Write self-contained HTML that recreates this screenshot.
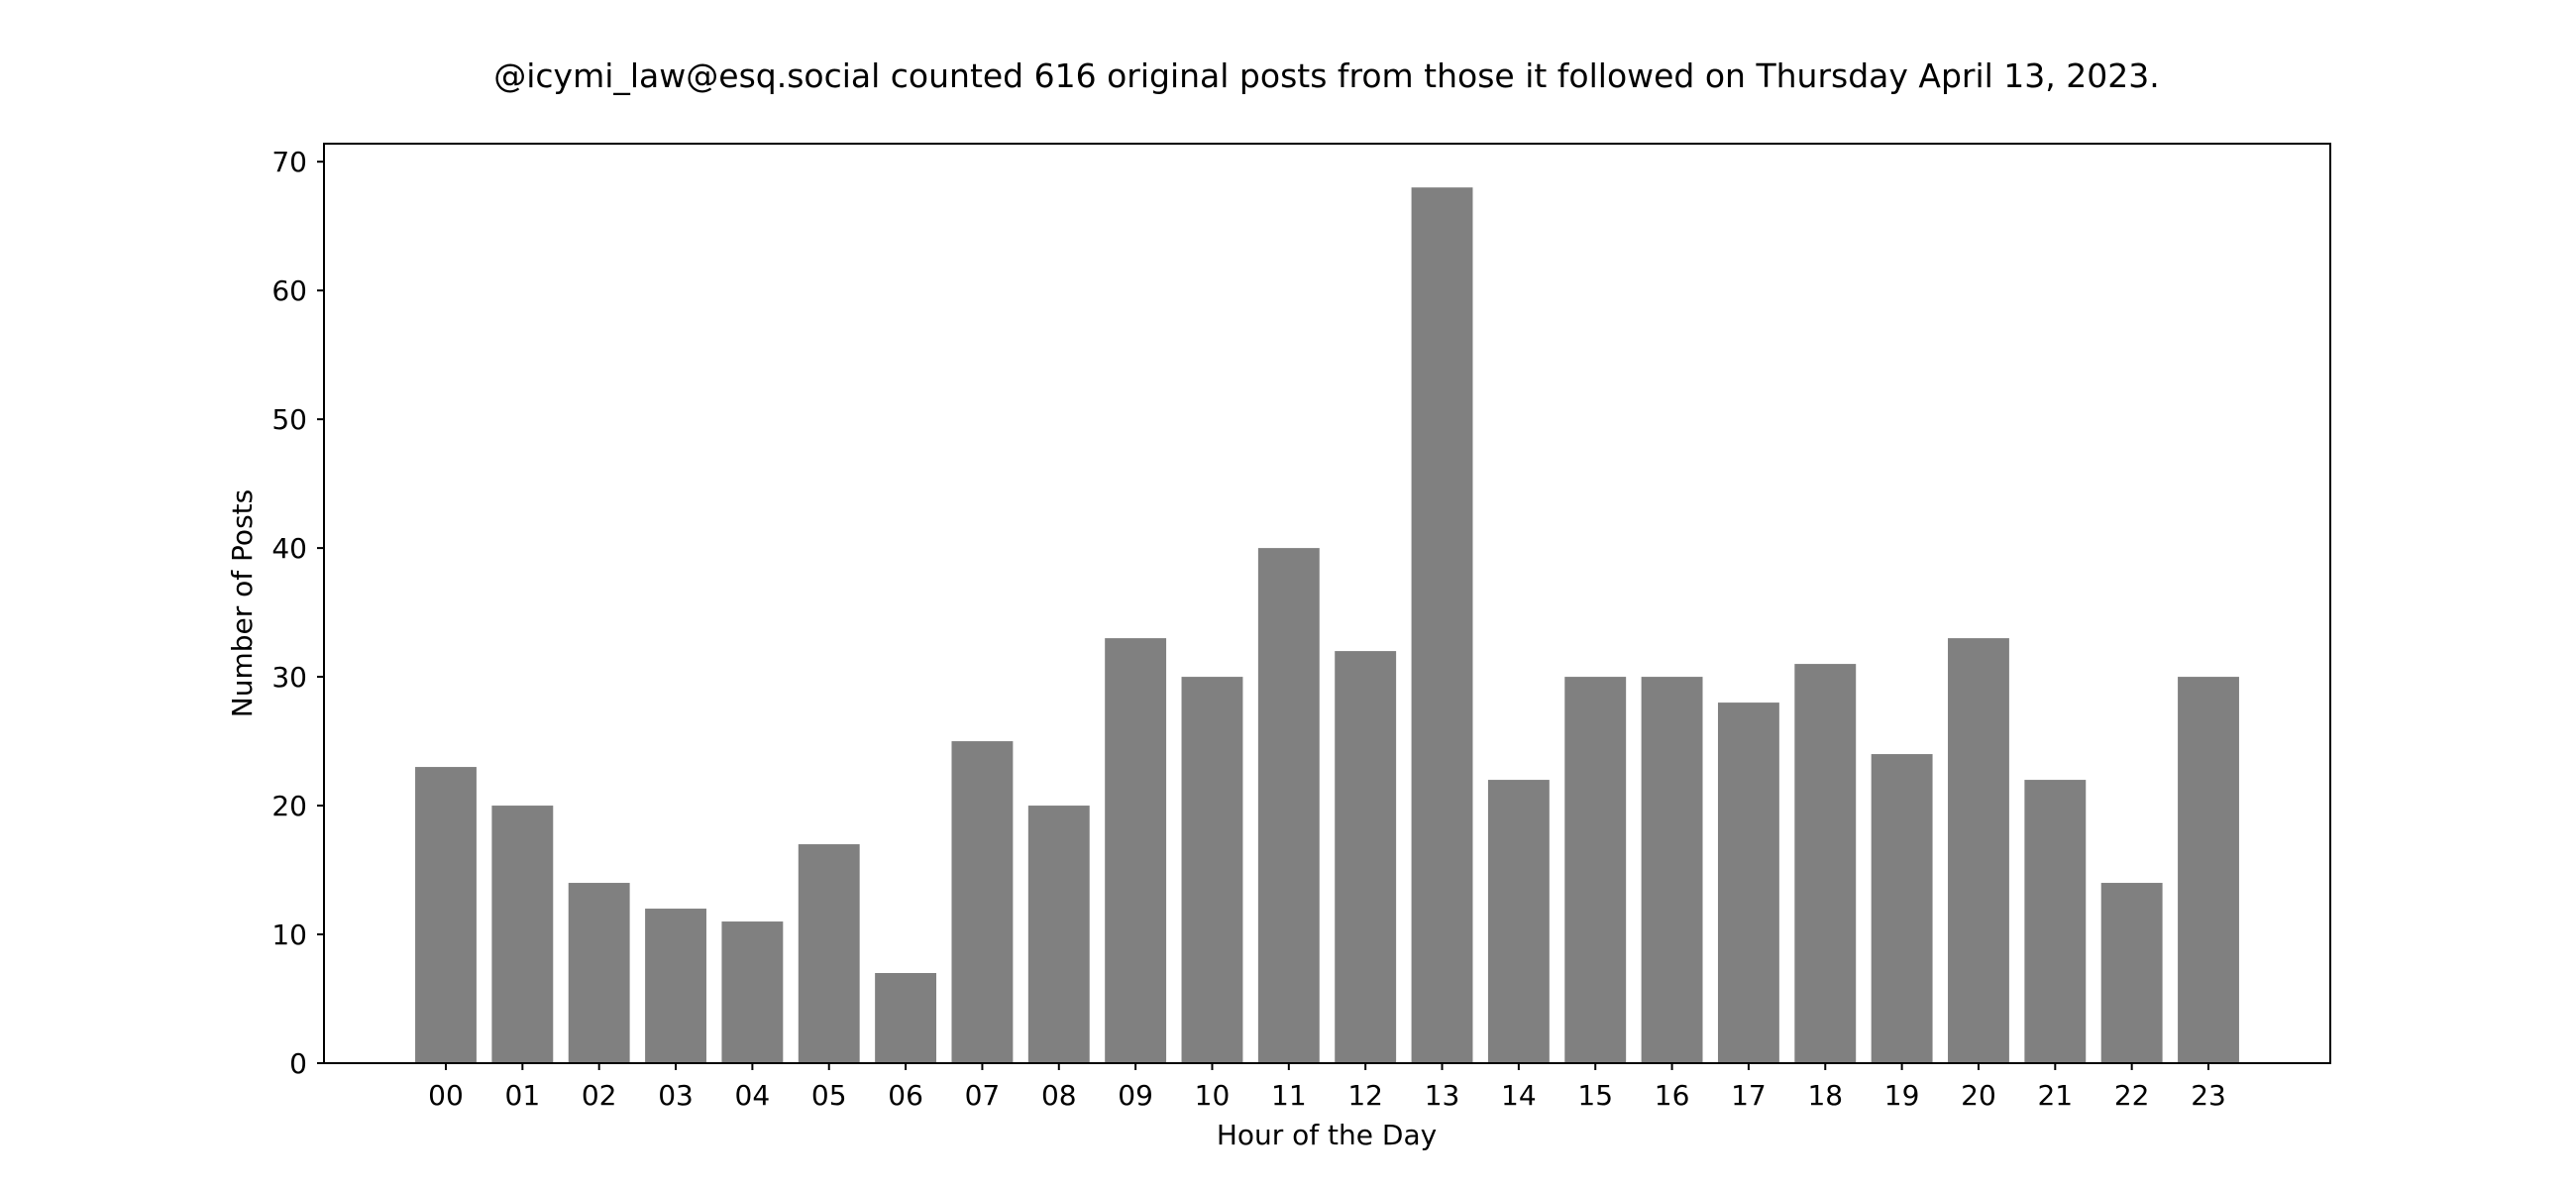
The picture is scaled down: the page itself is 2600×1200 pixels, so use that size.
<!DOCTYPE html>
<html><head><meta charset="utf-8"><style>
html,body{margin:0;padding:0;background:#fff;}
svg{display:block;font-family:"DejaVu Sans","Liberation Sans",sans-serif;}
</style></head><body>
<svg id="chart" width="2600" height="1200" viewBox="0 0 2600 1200" xmlns="http://www.w3.org/2000/svg">
<rect x="0" y="0" width="2600" height="1200" fill="#fff"/>
<text x="1339" y="88" text-anchor="middle" font-size="33" fill="#000">@icymi_law@esq.social counted 616 original posts from those it followed on Thursday April 13, 2023.</text>
<g id="bars"></g>
<g id="xticks"></g>
<g id="yticks"></g>
<rect x="327" y="145" width="2025" height="928" fill="none" stroke="#000" stroke-width="2"/>
<text x="1339" y="1155" text-anchor="middle" font-size="28" fill="#000">Hour of the Day</text>
<text x="0" y="0" transform="translate(254,609) rotate(-90)" text-anchor="middle" font-size="28" fill="#000">Number of Posts</text>
</svg>
<script>
const categories = ["00","01","02","03","04","05","06","07","08","09","10","11","12","13","14","15","16","17","18","19","20","21","22","23"];
const postCounts = [23,20,14,12,11,17,7,25,20,33,30,40,32,68,22,30,30,28,31,24,33,22,14,30];
const yTickLabels = [0,10,20,30,40,50,60,70];

(function () {
const NS = "http://www.w3.org/2000/svg";
const plotLeft = 327, plotRight = 2352, plotTop = 145, plotBottom = 1073;
const n = categories.length;
const xMin = -0.4 - 0.05 * (n - 1 + 0.8), xMax = n - 1 + 0.4 + 0.05 * (n - 1 + 0.8);
const yMax = Math.max(...postCounts) * 1.05;
const xScale = v => plotLeft + (v - xMin) / (xMax - xMin) * (plotRight - plotLeft);
const yScale = v => plotBottom - v / yMax * (plotBottom - plotTop);

const bars = document.getElementById("bars");
const xt = document.getElementById("xticks");
const yt = document.getElementById("yticks");
postCounts.forEach((v, i) => {
  const r = document.createElementNS(NS, "rect");
  const x0 = xScale(i - 0.4), x1 = xScale(i + 0.4);
  r.setAttribute("x", x0);
  r.setAttribute("width", x1 - x0);
  r.setAttribute("y", yScale(v));
  r.setAttribute("height", yScale(0) - yScale(v));
  r.setAttribute("fill", "#808080");
  
  
  bars.appendChild(r);
});
categories.forEach((c, i) => {
  const x = xScale(i);
  const l = document.createElementNS(NS, "line");
  l.setAttribute("x1", x); l.setAttribute("x2", x);
  l.setAttribute("y1", plotBottom); l.setAttribute("y2", plotBottom + 7);
  l.setAttribute("stroke", "#000"); l.setAttribute("stroke-width", "2");
  
  
  xt.appendChild(l);
  const t = document.createElementNS(NS, "text");
  t.setAttribute("x", x); t.setAttribute("y", 1115);
  t.setAttribute("text-anchor", "middle"); t.setAttribute("font-size", "28");
  t.textContent = c;
  
  
  xt.appendChild(t);
});
yTickLabels.forEach(v => {
  const y = yScale(v);
  const l = document.createElementNS(NS, "line");
  l.setAttribute("x1", plotLeft - 7); l.setAttribute("x2", plotLeft);
  l.setAttribute("y1", y); l.setAttribute("y2", y);
  l.setAttribute("stroke", "#000"); l.setAttribute("stroke-width", "2");
  
  
  yt.appendChild(l);
  const t = document.createElementNS(NS, "text");
  t.setAttribute("x", plotLeft - 17); t.setAttribute("y", y + 10);
  t.setAttribute("text-anchor", "end"); t.setAttribute("font-size", "28");
  t.textContent = v;
  
  
  yt.appendChild(t);
});
})();
</script>
</body></html>
